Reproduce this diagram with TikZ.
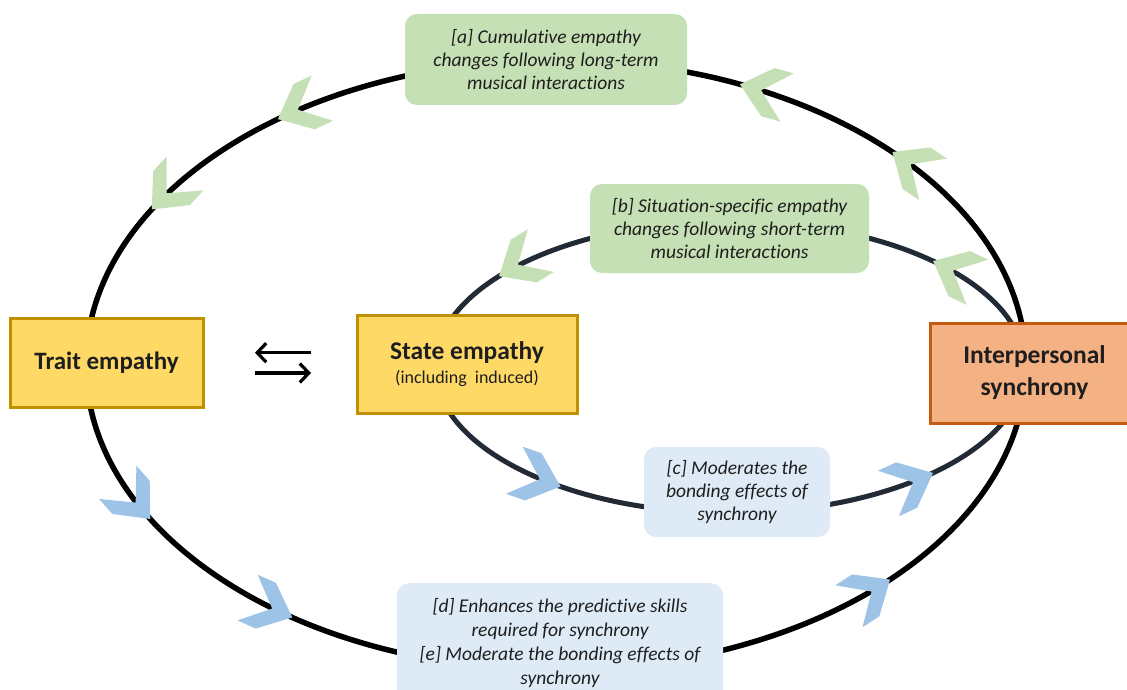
\documentclass[tikz,border=0pt]{standalone}
\usepackage{fontspec}
\setmainfont{Carlito}[Ligatures=NoCommon]
\usetikzlibrary{arrows.meta}

\definecolor{traitfill}{HTML}{FFD966}
\definecolor{traitline}{HTML}{BF9000}
\definecolor{syncfill}{HTML}{F4B183}
\definecolor{syncline}{HTML}{C55A11}
\definecolor{notegreen}{HTML}{C5E0B4}
\definecolor{noteblue}{HTML}{DEEBF7}
\definecolor{chevblue}{HTML}{9DC3E6}
\definecolor{innerloop}{HTML}{222A35}
\definecolor{inktext}{HTML}{1E1E1E}

% chevron arrowhead on an ellipse: colour, cx, cy, rx, ry, parameter angle
\newcommand\drawchevron[6]{%
  \pgfmathsetmacro\chx{#2+#4*cos(#6)}%
  \pgfmathsetmacro\chy{#3+#5*sin(#6)}%
  \pgfmathsetmacro\cha{atan2(#5*cos(#6),-#4*sin(#6))}%
  \fill[#1,shift={(\chx,\chy)},rotate=\cha]
    (2,0)--(-27,25)--(-47,25)--(-20,0)--(-47,-25)--(-27,-25)--cycle;}

\tikzset{
  conceptbox/.style={draw, line width=3pt, inner sep=0pt, align=center,
    text=inktext},
  notebox/.style={rounded corners=12pt, inner sep=0pt, align=center,
    text=inktext, font=\fontsize{19.5}{23}\selectfont\itshape},
}

\begin{document}
\begin{tikzpicture}[x=1pt,y=1pt]
\useasboundingbox (0,0) rectangle (1127,-690);
\clip (0,0) rectangle (1127,-690);
\fill[white] (0,0) rectangle (1127,-690);

% the two feedback loops
\draw[line width=5.5pt,black] (556,-365) ellipse [x radius=470pt, y radius=305pt];
\draw[line width=5pt,innerloop] (730,-367) ellipse [x radius=295pt, y radius=146pt];

% direction markers, outer loop
\foreach \t in {66.7,44,126,149} {\drawchevron{notegreen}{556}{-365}{470}{305}{\t}}
\foreach \t in {210,235.6,315} {\drawchevron{chevblue}{556}{-365}{470}{305}{\t}}
% direction markers, inner loop
\foreach \t in {46,141} {\drawchevron{notegreen}{730}{-367}{295}{146}{\t}}
\foreach \t in {234.5,313} {\drawchevron{chevblue}{730}{-367}{295}{146}{\t}}

% constructs
\node[conceptbox, fill=traitfill, draw=traitline, minimum width=193pt,
  minimum height=89pt, font=\fontsize{25}{30}\selectfont\bfseries]
  (trait) at (106.5,-362.5) {Trait empathy};
\node[conceptbox, fill=traitfill, draw=traitline, minimum width=220pt,
  minimum height=98pt] (state) at (467,-364)
  {{\fontsize{25.5}{30}\selectfont\bfseries State empathy}\\[6pt]
   {\fontsize{18}{22}\selectfont (including\ \ induced)}};
\node[conceptbox, fill=syncfill, draw=syncline, minimum width=209pt,
  minimum height=100pt, font=\fontsize{25.5}{32}\selectfont\bfseries]
  (sync) at (1034.5,-373) {Interpersonal\\synchrony};

% trait <-> state exchange
\coordinate (xl) at (255,-352.7);
\coordinate (xr) at (311,-352.7);
\coordinate (yl) at (255,-373);
\coordinate (yr) at (311,-373);
\draw[line width=3.2pt, -{Straight Barb[length=9pt,width=19pt,line width=3.2pt]}] (xr) -- (xl);
\draw[line width=3.2pt, -{Straight Barb[length=9pt,width=19pt,line width=3.2pt]}] (yl) -- (yr);

% annotations
\node[notebox, fill=notegreen, minimum width=282pt, minimum height=91pt]
  (na) at (546,-59.5)
  {[a] Cumulative empathy\\changes following long-term\\musical interactions};
\node[notebox, fill=notegreen, minimum width=279pt, minimum height=89pt]
  (nb) at (729.5,-228.5)
  {[b] Situation-specific empathy\\changes following short-term\\musical interactions};
\node[notebox, fill=noteblue, minimum width=186pt, minimum height=90pt]
  (nc) at (737,-492)
  {[c] Moderates the\\bonding effects of\\synchrony};
\node[notebox, fill=noteblue, minimum width=326pt, minimum height=124pt,
  anchor=north] (nd) at (560,-583) {};
\node[notebox, font=\fontsize{19.5}{23.7}\selectfont\itshape] (ndtext) at (560,-643)
  {[d] Enhances the predictive skills\\required for synchrony\\
   {[e]} Moderate the bonding effects of\\synchrony};
\end{tikzpicture}
\end{document}
